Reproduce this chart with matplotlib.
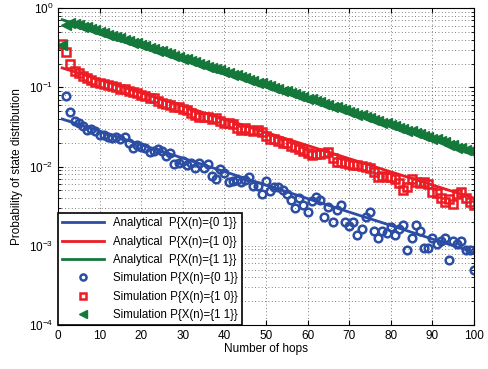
import numpy as np
import matplotlib
matplotlib.use('Agg')
import matplotlib.pyplot as plt

plt.rcParams['font.family'] = ['Liberation Sans', 'DejaVu Sans']
plt.rcParams['mathtext.fontset'] = 'custom'
plt.rcParams['mathtext.rm'] = 'Liberation Sans'

### analytical curves, read at every 10 hops
hops_line = [1, 10, 20, 30, 40, 50, 60, 70, 80, 90, 100]
ana_01 = [0.0398, 0.0280, 0.0189, 0.0128, 0.00865, 0.00585, 0.00395, 0.00267, 0.00181, 0.00122, 0.00083]
ana_10 = [0.176, 0.1247, 0.0851, 0.0581, 0.0396, 0.0270, 0.01845, 0.0126, 0.00859, 0.00586, 0.0040]
ana_11 = [0.714, 0.504, 0.342, 0.232, 0.158, 0.107, 0.0728, 0.0494, 0.0336, 0.0228, 0.0155]

### simulation points
hops_01 = list(range(2, 101))
sim_01 = [0.078, 0.049, 0.038, 0.0358, 0.0326, 0.029, 0.0301, 0.0284, 0.0251,
          0.0251, 0.0234, 0.0232, 0.0238, 0.0221, 0.0238, 0.020, 0.017, 0.0187, 0.0178,
          0.017, 0.0154, 0.0158, 0.0168, 0.0158, 0.0136, 0.0147, 0.0108, 0.011, 0.0117,
          0.0104, 0.011, 0.0095, 0.0112, 0.0095, 0.0108, 0.0076, 0.0070, 0.0094, 0.0084,
          0.0064, 0.0065, 0.0067, 0.0064, 0.0067, 0.0073, 0.0057, 0.0057, 0.0045, 0.0066,
          0.0049, 0.0056, 0.0055, 0.0051, 0.0045, 0.0038, 0.0030, 0.0040, 0.0033, 0.0027,
          0.0037, 0.0041, 0.0038, 0.0023, 0.0031, 0.0020, 0.0028, 0.0033, 0.0020, 0.0018,
          0.0020, 0.00136, 0.00163, 0.0023, 0.00265, 0.00154, 0.00126, 0.00154, 0.00145, 0.00173,
          0.00137, 0.00165, 0.00183, 0.00088, 0.00126, 0.00185, 0.00154, 0.00095, 0.00095, 0.00127,
          0.00107, 0.00114, 0.00126, 0.00067, 0.00114, 0.00107, 0.00115, 0.00088, 0.00088, 0.00049]

hops = list(range(1, 101))
sim_10 = [0.355, 0.276, 0.198, 0.163, 0.151, 0.140, 0.133, 0.124, 0.116, 0.115,
          0.111, 0.108, 0.104, 0.102, 0.095, 0.095, 0.091, 0.0885, 0.0844, 0.0804,
          0.078, 0.0743, 0.073, 0.068, 0.0643, 0.0618, 0.060, 0.0561, 0.0572, 0.053,
          0.0519, 0.048, 0.0449, 0.0427, 0.042, 0.0427, 0.0396, 0.0405, 0.0377, 0.0358,
          0.0352, 0.0342, 0.0305, 0.029, 0.0305, 0.029, 0.0284, 0.029, 0.0276, 0.0245,
          0.0221, 0.0221, 0.0212, 0.020, 0.0198, 0.0182, 0.0175, 0.0165, 0.0158, 0.0147,
          0.0141, 0.0144, 0.0144, 0.0147, 0.0154, 0.0128, 0.0114, 0.0114, 0.011, 0.0108,
          0.0105, 0.0104, 0.0101, 0.0098, 0.0095, 0.0086, 0.0073, 0.0076, 0.0075, 0.0073,
          0.0069, 0.0062, 0.0051, 0.0055, 0.0069, 0.0064, 0.0062, 0.0064, 0.006, 0.0048,
          0.00466, 0.00396, 0.00359, 0.00385, 0.00342, 0.00449, 0.0048, 0.00396, 0.00359, 0.00326]
sim_11 = [0.34, 0.62, 0.655, 0.63, 0.615, 0.585, 0.57, 0.54, 0.525, 0.50,
          0.487, 0.463, 0.45, 0.43, 0.417, 0.397, 0.386, 0.368, 0.358, 0.34,
          0.331, 0.315, 0.306, 0.291, 0.284, 0.27, 0.262, 0.249, 0.243, 0.231,
          0.225, 0.213, 0.208, 0.197, 0.193, 0.183, 0.178, 0.17, 0.165, 0.157,
          0.153, 0.145, 0.142, 0.134, 0.131, 0.124, 0.122, 0.115, 0.113, 0.106,
          0.104, 0.098, 0.0962, 0.091, 0.089, 0.0842, 0.0825, 0.078, 0.0762, 0.0721,
          0.0706, 0.0668, 0.0653, 0.0618, 0.0605, 0.0571, 0.0559, 0.0528, 0.0518, 0.0489,
          0.048, 0.0453, 0.0444, 0.0419, 0.041, 0.0388, 0.038, 0.036, 0.0352, 0.0333,
          0.0326, 0.0308, 0.0302, 0.0284, 0.0279, 0.0263, 0.0259, 0.0244, 0.0239, 0.0226,
          0.0221, 0.0208, 0.0205, 0.019, 0.0186, 0.0174, 0.0171, 0.0162, 0.0158, 0.0152]

blue = '#2B4DA3'
red = '#EC1C24'
green = '#13783A'

fig = plt.figure(figsize=(4.89, 3.69), dpi=100)
ax = fig.add_axes([0.1186, 0.119, 0.8506, 0.859])

ax.plot(hops_line, ana_01, color=blue, lw=2, label='Analytical  P{X(n)={0 1}}')
ax.plot(hops_line, ana_10, color=red, lw=2, label='Analytical  P{X(n)={1 0}}')
ax.plot(hops_line, ana_11, color=green, lw=2, label='Analytical  P{X(n)={1 1}}')
ax.plot(hops_01, sim_01, 'o', mfc='none', mec=blue, mew=1.8, ms=5.5, label='Simulation P{X(n)={0 1}}')
ax.plot(hops, sim_10, 's', mfc='none', mec=red, mew=1.8, ms=6, label='Simulation P{X(n)={1 0}}')
ax.plot(hops, sim_11, '<', color=green, mec=green, ms=7, label='Simulation P{X(n)={1 1}}')

ax.set_yscale('log')
ax.set_xlim(0, 100)
ax.set_ylim(1e-4, 1)
ax.set_xticks(np.arange(0, 101, 10))
ax.tick_params(which='both', direction='in', top=True, right=True, labelsize=8.5)
ax.grid(True, which='major', axis='x', ls=(0, (1, 3)), color='#555555', lw=0.6)
ax.grid(True, which='both', axis='y', ls=(0, (1, 3)), color='#555555', lw=0.6)
ax.set_xlabel('Number of hops', fontsize=8.5, labelpad=1)
ax.set_ylabel('Probability of state distribution', fontsize=8.5)

leg = ax.legend(loc='lower left', fontsize=8.3, frameon=True, fancybox=False,
                edgecolor='black', framealpha=1, borderaxespad=0, handlelength=3.6,
                labelspacing=0.55, borderpad=0.35, markerscale=0.8)
leg.get_frame().set_linewidth(1.2)

fig.savefig('out.png', dpi=100)
